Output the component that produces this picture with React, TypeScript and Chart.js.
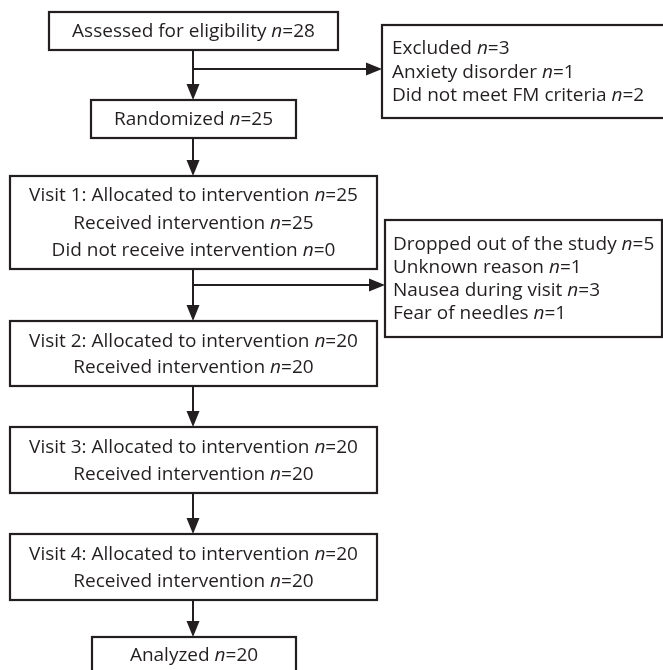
import React, { useEffect, useRef } from "react";
import { Chart, registerables } from "chart.js";

Chart.register(...registerables);

// ---- data ----
const assessedLabel = "Assessed for eligibility";
const assessedN = 28;
const excludedLabel = "Excluded";
const excludedN = 3;
const exclusionReasons = ["Anxiety disorder", "Did not meet FM criteria"];
const exclusionCounts = [1, 2];
const randomizedLabel = "Randomized";
const randomizedN = 25;
const visitNames = ["Visit 1", "Visit 2", "Visit 3", "Visit 4"];
const visitAllocated = [25, 20, 20, 20];
const visitReceived = [25, 20, 20, 20];
const visitNotReceived = [0, null, null, null];
const droppedLabel = "Dropped out of the study";
const droppedN = 5;
const dropoutReasons = ["Unknown reason", "Nausea during visit", "Fear of needles"];
const dropoutCounts = [1, 3, 1];
const analyzedLabel = "Analyzed";
const analyzedN = 20;

type Line = { text: string; n: number };
type Box = { id: string; lines: Line[] };

const boxes: Box[] = [
  { id: "assessed", lines: [{ text: assessedLabel, n: assessedN }] },
  {
    id: "excluded",
    lines: [
      { text: excludedLabel, n: excludedN },
      ...exclusionReasons.map((r, i) => ({ text: r, n: exclusionCounts[i] })),
    ],
  },
  { id: "randomized", lines: [{ text: randomizedLabel, n: randomizedN }] },
  ...visitNames.map((v, i) => {
    const lines: Line[] = [
      { text: `${v}: Allocated to intervention`, n: visitAllocated[i] },
      { text: "Received intervention", n: visitReceived[i] },
    ];
    if (visitNotReceived[i] !== null) lines.push({ text: "Did not receive intervention", n: visitNotReceived[i] as number });
    return { id: `visit${i + 1}`, lines };
  }),
  {
    id: "dropped",
    lines: [
      { text: droppedLabel, n: droppedN },
      ...dropoutReasons.map((r, i) => ({ text: r, n: dropoutCounts[i] })),
    ],
  },
  { id: "analyzed", lines: [{ text: analyzedLabel, n: analyzedN }] },
];

// ---- layout (data-space units of the scales) ----
type Geo = { x0: number; x1: number; y0: number; y1: number; align: "center" | "left"; gap: number; textX?: number; textY?: number };
const layout: Record<string, Geo> = {
  assessed: { x0: 49, x1: 338, y0: 12, y1: 50, align: "center", gap: 27 },
  excluded: { x0: 382, x1: 666, y0: 25, y1: 118, align: "left", gap: 23.5, textX: 392 },
  randomized: { x0: 91, x1: 296, y0: 100, y1: 138, align: "center", gap: 27 },
  visit1: { x0: 10, x1: 377, y0: 176, y1: 269, align: "center", gap: 27.5 },
  dropped: { x0: 385, x1: 662, y0: 220, y1: 337, align: "left", gap: 23, textX: 393 },
  visit2: { x0: 10, x1: 377, y0: 321, y1: 386, align: "center", gap: 26.5 },
  visit3: { x0: 10, x1: 377, y0: 427, y1: 493, align: "center", gap: 26.5 },
  visit4: { x0: 10, x1: 377, y0: 534, y1: 600, align: "center", gap: 26.5 },
  analyzed: { x0: 92, x1: 296, y0: 637, y1: 676, align: "center", gap: 27, textY: 655 },
};

const spineX = 193;
const verticalLinks = [
  ["assessed", "randomized"],
  ["randomized", "visit1"],
  ["visit1", "visit2"],
  ["visit2", "visit3"],
  ["visit3", "visit4"],
  ["visit4", "analyzed"],
];
const branchLinks = [
  { y: 69, to: "excluded" },
  { y: 285, to: "dropped" },
];

const INK = "#231f20";
const FONT_FAMILY = "'Open Sans', 'Noto Sans', sans-serif";
const FONT_SIZE = 19;
const TEXT_DY = 1;

export default function App() {
  const ref = useRef<HTMLCanvasElement | null>(null);

  useEffect(() => {
    if (!ref.current) return;

    const flowPlugin = {
      id: "flow",
      afterDatasetsDraw(chart: any) {
        const ctx: CanvasRenderingContext2D = chart.ctx;
        const xs = chart.scales.x;
        const ys = chart.scales.y;
        const px = (v: number) => xs.getPixelForValue(v);
        const py = (v: number) => ys.getPixelForValue(v);
        ctx.save();
        ctx.strokeStyle = INK;
        ctx.fillStyle = INK;
        ctx.lineWidth = 2;

        const arrowHead = (tx: number, ty: number, dir: "down" | "right") => {
          const L = 16;
          const W = 6.5;
          ctx.beginPath();
          if (dir === "down") {
            ctx.moveTo(tx, ty);
            ctx.lineTo(tx - W, ty - L);
            ctx.lineTo(tx + W, ty - L);
          } else {
            ctx.moveTo(tx, ty);
            ctx.lineTo(tx - L, ty - W);
            ctx.lineTo(tx - L, ty + W);
          }
          ctx.closePath();
          ctx.fill();
        };

        verticalLinks.forEach(([a, b]) => {
          const ga = layout[a];
          const gb = layout[b];
          const x = px(spineX);
          ctx.beginPath();
          ctx.moveTo(x, py(ga.y1));
          ctx.lineTo(x, py(gb.y0) - 10);
          ctx.stroke();
          arrowHead(x, py(gb.y0), "down");
        });
        branchLinks.forEach((br) => {
          const g = layout[br.to];
          ctx.beginPath();
          ctx.moveTo(px(spineX), py(br.y));
          ctx.lineTo(px(g.x0) - 10, py(br.y));
          ctx.stroke();
          arrowHead(px(g.x0), py(br.y), "right");
        });

        const reg = `${FONT_SIZE}px ${FONT_FAMILY}`;
        const ital = `italic ${FONT_SIZE}px ${FONT_FAMILY}`;
        ctx.textBaseline = "middle";
        ctx.textAlign = "left";
        boxes.forEach((b) => {
          const g = layout[b.id];
          const x0 = px(g.x0), x1 = px(g.x1), y0 = py(g.y0), y1 = py(g.y1);
          ctx.fillStyle = "#ffffff";
          ctx.fillRect(x0, y0, x1 - x0, y1 - y0);
          ctx.strokeStyle = INK;
          ctx.lineWidth = 2.2;
          ctx.strokeRect(x0, y0, x1 - x0, y1 - y0);
          ctx.fillStyle = INK;
          const cy = (g.textY !== undefined ? py(g.textY) : (y0 + y1) / 2) + TEXT_DY;
          const n = b.lines.length;
          b.lines.forEach((ln, i) => {
            const y = cy + (i - (n - 1) / 2) * g.gap;
            const t1 = ln.text + " ";
            const t2 = "n";
            const t3 = "=" + ln.n;
            ctx.font = reg;
            const w1 = ctx.measureText(t1).width;
            const w3 = ctx.measureText(t3).width;
            ctx.font = ital;
            const w2 = ctx.measureText(t2).width;
            const total = w1 + w2 + w3;
            let x = g.align === "center" ? (x0 + x1) / 2 - total / 2 : px(g.textX as number);
            ctx.font = reg;
            ctx.fillText(t1, x, y);
            x += w1;
            ctx.font = ital;
            ctx.fillText(t2, x, y);
            x += w2;
            ctx.font = reg;
            ctx.fillText(t3, x, y);
          });
        });
        ctx.restore();
      },
    };

    const centers = boxes.map((b) => {
      const g = layout[b.id];
      return { x: (g.x0 + g.x1) / 2, y: (g.y0 + g.y1) / 2 };
    });

    const chart = new Chart(ref.current, {
      type: "scatter",
      data: {
        datasets: [{ data: centers, pointRadius: 0, pointHoverRadius: 0 }],
      },
      options: {
        animation: false,
        responsive: false,
        devicePixelRatio: 1,
        layout: { padding: 0 },
        events: [],
        plugins: { legend: { display: false }, tooltip: { enabled: false }, title: { display: false } },
        scales: {
          x: { type: "linear", min: 0, max: 663, display: false },
          y: { type: "linear", min: 0, max: 670, reverse: true, display: false },
        },
      },
      plugins: [flowPlugin],
    });
    return () => chart.destroy();
  }, []);

  return (
    <div style={{ position: "absolute", left: 0, top: 0, width: 663, height: 670, background: "#fff" }}>
      <canvas ref={ref} width={663} height={670} style={{ display: "block" }} />
    </div>
  );
}
